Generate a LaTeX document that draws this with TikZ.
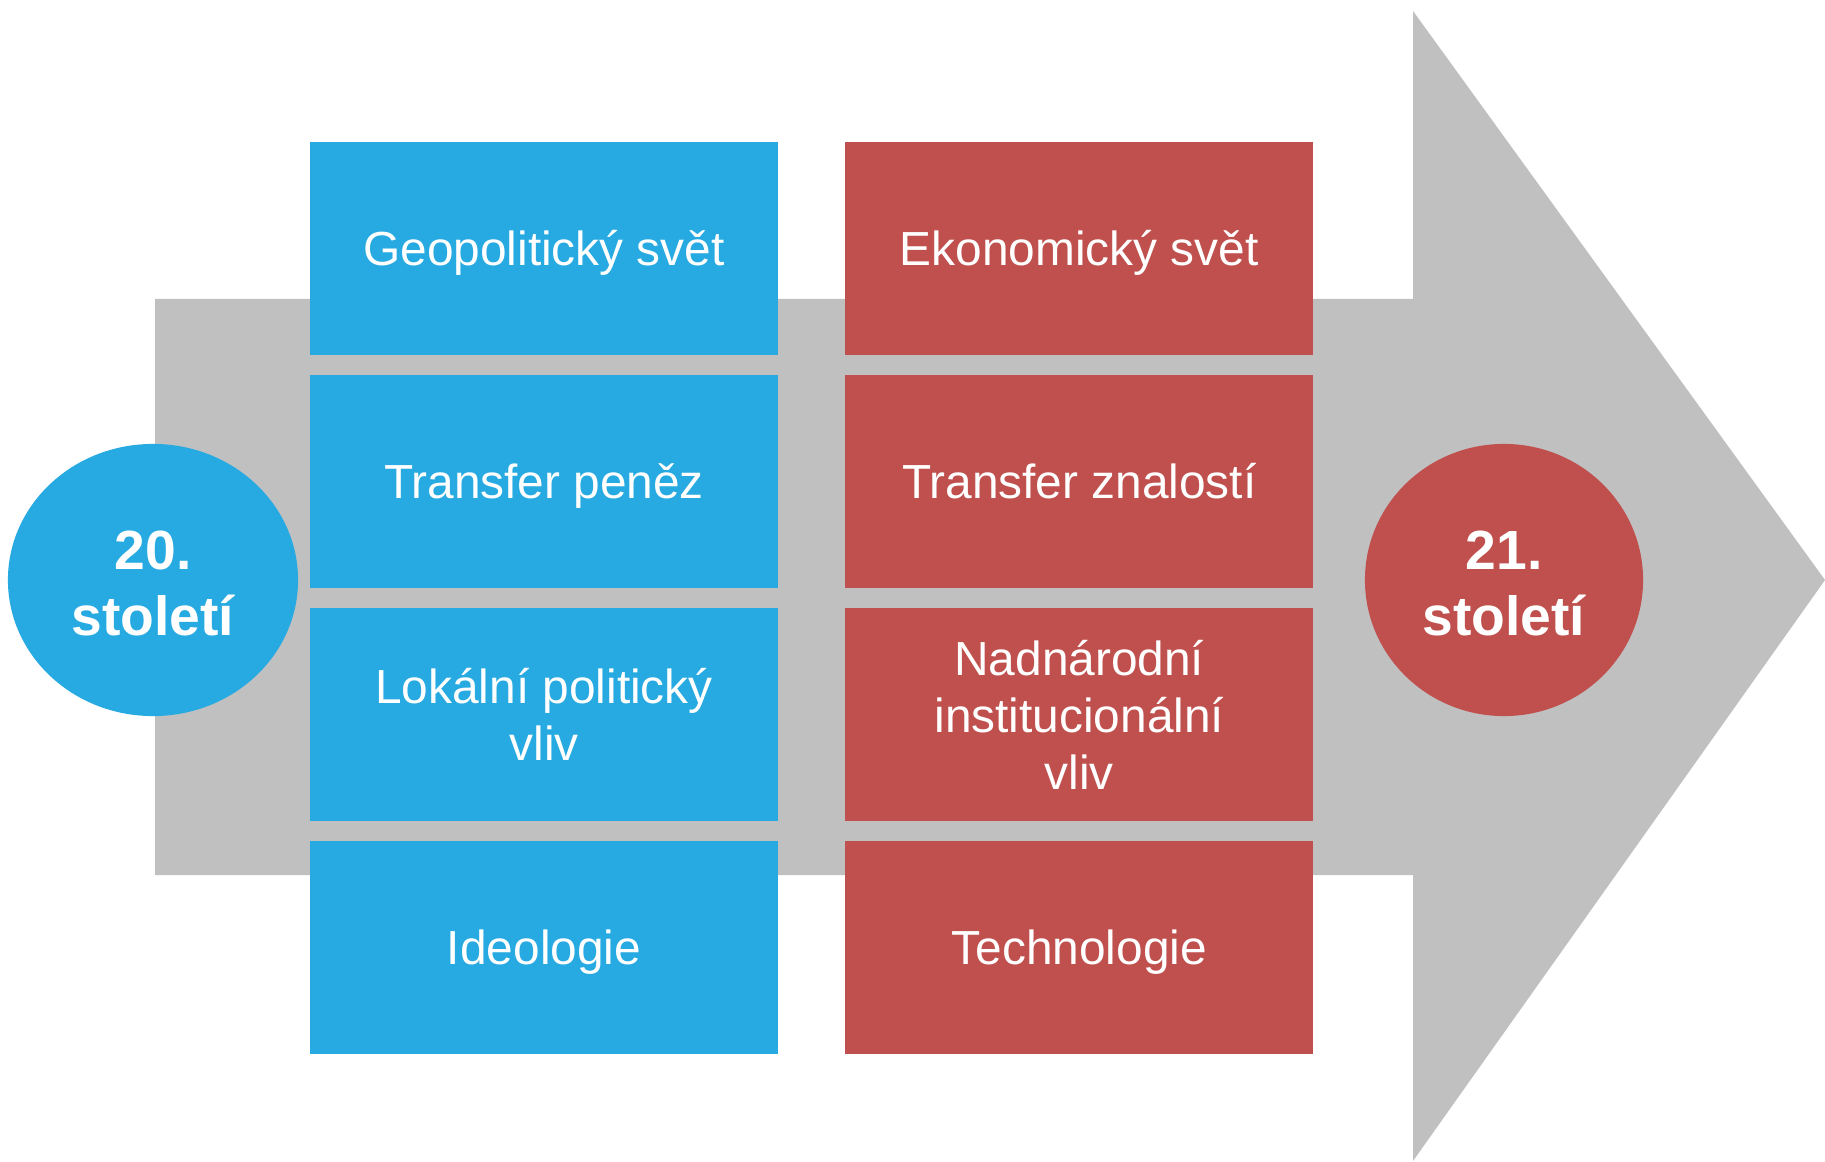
\documentclass[tikz,border=0pt]{standalone}
\usepackage{fontspec}
\setmainfont{Liberation Sans}
\usetikzlibrary{positioning,shapes.geometric}
\definecolor{oldblue}{HTML}{27AAE1}
\definecolor{newred}{HTML}{C0504D}
\definecolor{flowgray}{HTML}{C0C0C0}
\newcommand{\boxstrut}{\rule[-2.88pt]{0pt}{15.18pt}}
\newcommand{\yearlift}{\rule{0pt}{13pt}}
\tikzset{
  topicbox/.style={minimum width=4.68cm,minimum height=2.13cm,inner sep=0pt,
                   outer sep=0pt,align=center,text=white,
                   font=\fontsize{13.6}{16.2}\selectfont},
  oneline/.style={execute at begin node=\boxstrut,execute at end node=\boxstrut},
  oldbox/.style={topicbox,fill=oldblue},
  newbox/.style={topicbox,fill=newred},
  century/.style={ellipse,minimum height=2.72cm,inner sep=0pt,align=center,
                  text=white,font=\fontsize{15.7}{18.8}\selectfont\bfseries}
}

\begin{document}
\begin{tikzpicture}[x=0.01cm,y=-0.01cm,node distance=0.2cm]
  \useasboundingbox (0,0) rectangle (1825,1161);
  % big arrow behind everything
  \fill[flowgray] (155,299) -- (1413,299) -- (1413,11) -- (1825,580)
     -- (1413,1161) -- (1413,875) -- (155,875) -- cycle;

  % 20th century column
  \node[oldbox,oneline] (geo) at (544,248.5) {Geopolitický svět};
  \node[oldbox,oneline,below=of geo] (money) {Transfer peněz};
  \node[oldbox,below=of money] (local) {Lokální politický\\vliv};
  \node[oldbox,oneline,below=of local] (ideo) {Ideologie};

  % 21st century column
  \node[newbox,oneline,right=0.67cm of geo] (eco) {Ekonomický svět};
  \node[newbox,oneline,below=of eco] (know) {Transfer znalostí};
  \node[newbox,below=of know] (supra) {Nadnárodní\\institucionální\\vliv};
  \node[newbox,oneline,below=of supra] (tech) {Technologie};

  \node[century,fill=oldblue,minimum width=2.9cm] (c20) at (153,580) {\yearlift 20.\\století};
  \node[century,fill=newred,minimum width=2.78cm] (c21) at (1504,580) {\yearlift 21.\\století};
\end{tikzpicture}
\end{document}
